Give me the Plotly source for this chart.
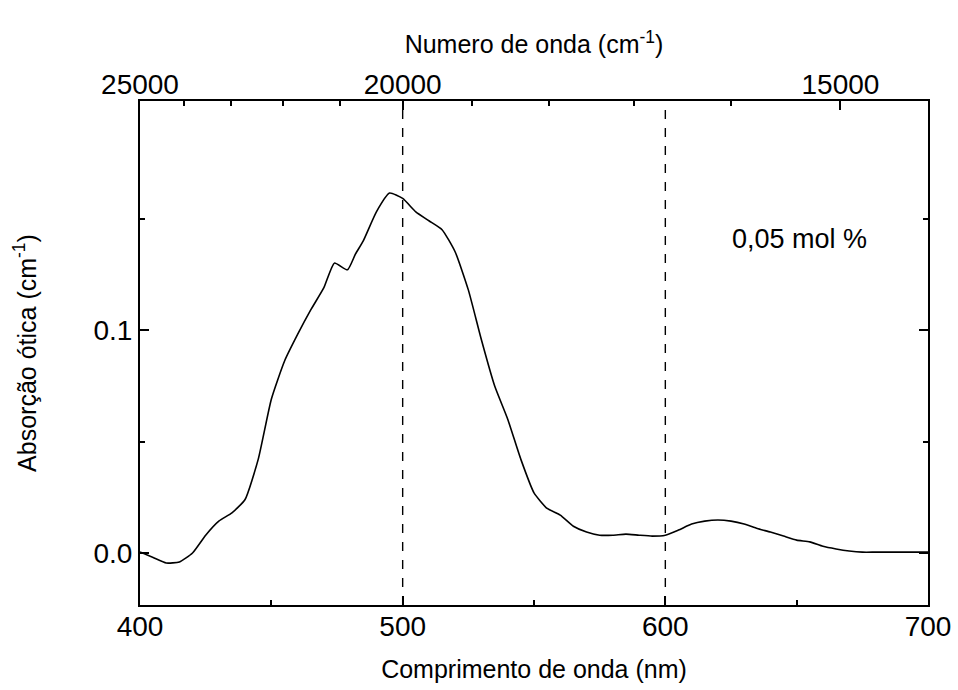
import plotly.graph_objects as go

# wavelength (nm) and optical absorption (cm^-1)
wavelength = [400, 405, 410, 415, 420, 425, 430, 435, 440, 445, 450, 455, 460, 465, 470,
              474, 479, 482, 485, 490, 495, 500, 505, 510, 515, 520, 525, 530, 535, 540,
              545, 550, 555, 560, 565, 570, 575, 580, 585, 590, 595, 600, 605, 610, 615,
              620, 625, 630, 635, 640, 645, 650, 655, 660, 665, 670, 675, 680, 690, 700]
absorption = [0.0005, -0.002, -0.0045, -0.004, 0.0, 0.008, 0.0143, 0.018, 0.024, 0.042,
              0.069, 0.086, 0.098, 0.109, 0.119, 0.130, 0.127, 0.134, 0.140, 0.153,
              0.1614, 0.159, 0.153, 0.149, 0.145, 0.135, 0.118, 0.0955, 0.075, 0.060,
              0.042, 0.027, 0.020, 0.017, 0.012, 0.0094, 0.008, 0.008, 0.0085, 0.008,
              0.0076, 0.008, 0.0103, 0.013, 0.0143, 0.0148, 0.0143, 0.013, 0.011, 0.0094,
              0.0076, 0.0058, 0.005, 0.003, 0.0018, 0.0009, 0.0004, 0.0004, 0.0004, 0.0004]

dashed_lines_nm = [500, 600]
wavenumber_major = [25000, 20000, 15000]
wavenumber_minor = [24000, 23000, 22000, 21000, 19000, 18000, 17000, 16000]
y_major = [0.0, 0.1]
y_minor = [0.05, 0.15]
label_text = "0,05 mol %"
label_pos = (651, 0.141)

FONT = "Liberation Sans, Arial, sans-serif"

fig = go.Figure()
fig.add_trace(go.Scatter(x=wavelength, y=absorption, mode="lines",
                         line=dict(color="black", width=1.6, shape="spline", smoothing=0.5),
                         showlegend=False, hoverinfo="skip"))
# invisible traces to anchor the top wavenumber axes
for ax in ["x2", "x3"]:
    fig.add_trace(go.Scatter(x=wavelength, y=absorption, xaxis=ax, mode="lines",
                             line=dict(color="rgba(0,0,0,0)"), showlegend=False,
                             hoverinfo="skip"))

for nm in dashed_lines_nm:
    fig.add_shape(type="line", xref="x", yref="paper", x0=nm, x1=nm, y0=0, y1=1,
                  line=dict(color="black", width=1.4, dash="dash"))

fig.add_annotation(x=label_pos[0], y=label_pos[1], xref="x", yref="y", text=label_text,
                   showarrow=False, font=dict(size=27, color="black", family=FONT))

major_pos = [1e7 / w for w in wavenumber_major]
minor_pos = [1e7 / w for w in wavenumber_minor]

fig.update_layout(
    width=958, height=690,
    margin=dict(l=140, r=30, t=101, b=85, autoexpand=False),
    paper_bgcolor="white", plot_bgcolor="white",
    font=dict(family=FONT, color="black", size=28),
    xaxis=dict(range=[400, 700], dtick=100, tick0=400, ticks="inside", ticklen=9,
               tickwidth=2, tickcolor="black", showline=True, linecolor="black",
               linewidth=2, showgrid=False, zeroline=False, automargin=False,
               minor=dict(dtick=50, ticks="inside", ticklen=5, tickwidth=2,
                          tickcolor="black", showgrid=False),
               tickfont=dict(size=28), ticklabelstandoff=-5,
               title=dict(text="Comprimento de onda (nm)", font=dict(size=25), standoff=20)),
    xaxis2=dict(overlaying="x", side="top", range=[400, 700], tickmode="array",
                tickvals=major_pos, ticktext=[str(w) for w in wavenumber_major],
                ticks="inside", ticklen=9, tickwidth=2, tickcolor="black",
                showline=True, linecolor="black", linewidth=2, showgrid=False,
                zeroline=False, tickfont=dict(size=28), ticklabelstandoff=-6,
                automargin=False,
                title=dict(text="Numero de onda (cm<sup>-1</sup>)", font=dict(size=25),
                           standoff=8)),
    xaxis3=dict(overlaying="x", side="top", range=[400, 700], tickmode="array",
                tickvals=minor_pos, showticklabels=False, ticks="inside", ticklen=5,
                tickwidth=2, tickcolor="black", showline=False, showgrid=False,
                zeroline=False, automargin=False),
    yaxis=dict(range=[-0.0233, 0.2027], tickmode="array", tickvals=y_major,
               tickformat=".1f", automargin=False,
               ticks="inside", ticklen=9, tickwidth=2, tickcolor="black",
               showline=True, linecolor="black", linewidth=2, mirror="ticks",
               showgrid=False, zeroline=False,
               minor=dict(tickmode="array", tickvals=y_minor, ticks="inside", ticklen=5,
                          tickwidth=2, tickcolor="black", showgrid=False),
               tickfont=dict(size=28),
               title=dict(text="Absorção ótica (cm<sup>-1</sup>)", font=dict(size=25),
                          standoff=50)),
)

fig.write_html("out.html")
